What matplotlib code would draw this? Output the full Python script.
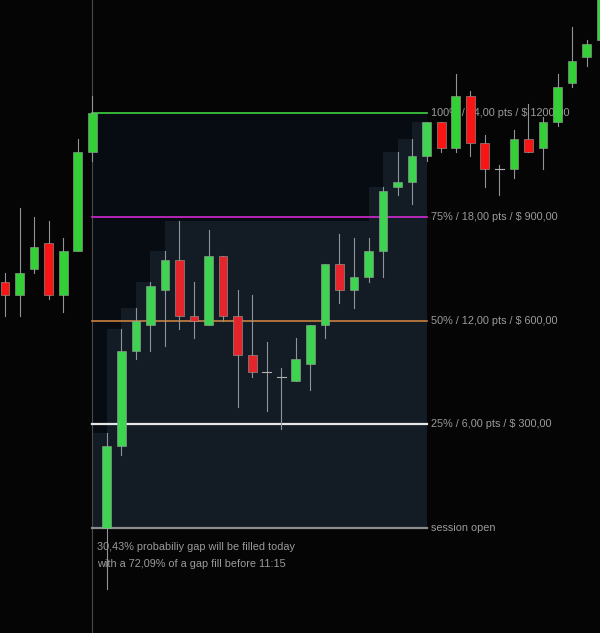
import matplotlib
matplotlib.use("Agg")
import matplotlib.pyplot as plt
from matplotlib.patches import Rectangle
import numpy as np

plt.rcParams['font.family'] = ['Liberation Sans', 'DejaVu Sans']

# ES session, points relative to session open (4512.00)
session_open = 4512.00
gap_pts = 24.0
point_value = 50.0

# OHLC offsets from session open, one bar per 15 min
opens = [14.25, 13.5, 15.0, 16.5, 13.5, 16.0, 21.75,
         0.0, 4.75, 10.25, 11.75, 13.75, 15.5, 12.25, 11.75, 15.75, 12.25,
         10.0, 9.0, 8.75, 8.5, 9.5, 11.75, 15.25, 13.75, 14.5, 16.0, 19.75,
         20.0, 21.5, 23.5, 22.0, 25.0, 22.25, 20.75, 20.75, 22.5, 22.0,
         23.5, 25.75, 27.25, 28.25]
highs = [14.75, 18.5, 18.0, 17.75, 16.75, 22.5, 25.0,
         5.5, 11.5, 12.75, 14.25, 16.0, 17.75, 14.25, 17.25, 15.75, 13.75,
         13.5, 10.75, 9.25, 11.0, 11.75, 15.25, 17.0, 16.75, 16.75, 19.75, 21.75,
         22.5, 23.5, 23.5, 26.25, 25.25, 22.75, 21.0, 23.0, 24.5, 23.75,
         26.25, 29.0, 28.25, 31.5]
lows = [12.25, 12.25, 14.75, 13.25, 12.5, 16.0, 21.25,
        -3.5, 4.25, 9.75, 10.25, 10.5, 11.5, 11.0, 11.75, 12.0, 7.0,
        8.75, 6.75, 5.75, 8.5, 8.0, 11.0, 13.0, 12.75, 14.25, 14.5, 19.25,
        18.75, 21.25, 21.75, 21.75, 21.5, 19.75, 19.25, 20.25, 21.75, 20.75,
        23.25, 25.5, 26.75, 28.0]
closes = [13.5, 14.75, 16.25, 13.5, 16.0, 21.75, 24.0,
          4.75, 10.25, 12.0, 14.0, 15.5, 12.25, 12.0, 15.75, 12.25, 10.0,
          9.0, 9.0, 8.75, 9.75, 11.75, 15.25, 13.75, 14.5, 16.0, 19.5, 20.0,
          21.5, 23.5, 22.0, 25.0, 22.25, 20.75, 20.75, 22.5, 21.75, 23.5,
          25.5, 27.0, 28.0, 31.0]

open_bar = 6       # last bar of prior session (gap bar)
end_bar = 29       # box ends here
level_pcts = [1.00, 0.75, 0.50, 0.25]
level_colors = ['#3fd23f', '#d22ad2', '#c9803f', '#e6e6e6']
level_widths = [1.2, 1.2, 1.2, 1.6]
fill_prob = 30.43
early_prob = 72.09
early_time = '11:15'

bg = '#050505'
text_col = '#9b9b9b'
fs = 7.8

fig = plt.figure(figsize=(6.0, 6.33), dpi=100, facecolor=bg)
ax = fig.add_axes([0, 0, 1, 1])
ax.set_facecolor(bg)
ax.set_axis_off()

o = session_open + np.array(opens)
h = session_open + np.array(highs)
l = session_open + np.array(lows)
c = session_open + np.array(closes)
n = len(o)
x = np.arange(n)

ax.set_xlim(-0.344, 40.92)
ax.set_ylim(session_open - 6.07, session_open + 30.54)

top = session_open + gap_pts

# dark box for the gap zone
ax.add_patch(Rectangle((open_bar, session_open), end_bar - open_bar, gap_pts,
                       facecolor='#070b12', edgecolor='none', zorder=1))
# running-high staircase
run_high = -np.inf
for i in range(open_bar + 1, end_bar + 1):
    run_high = max(run_high, h[i])
    hh = min(run_high, top) - session_open
    ax.add_patch(Rectangle((i - 1, session_open), 1, hh,
                           facecolor='#131c24', edgecolor='none', zorder=1.5))

# session divider
ax.axvline(open_bar, color='#4a4a4a', lw=0.8, zorder=2)

# levels
for pct, col, lw in zip(level_pcts, level_colors, level_widths):
    y = session_open + pct * gap_pts
    ax.plot([open_bar, end_bar], [y, y], color=col, lw=lw, zorder=3)
    pts = pct * gap_pts
    usd = pts * point_value
    lab = f"{pct * 100:.0f}% / {pts:.2f} pts / $ {usd:.2f}".replace('.', ',')
    ax.text(end_bar + 0.28, y, lab, color=text_col, fontsize=fs,
            va='center', ha='left', zorder=3)
ax.plot([open_bar, end_bar], [session_open, session_open], color='#8c8c8c', lw=1.6, zorder=3)
ax.text(end_bar + 0.28, session_open, 'session open', color=text_col, fontsize=fs,
        va='center', ha='left', zorder=3)

# candles
w = 0.6
for i in range(n):
    inside = open_bar < i <= end_bar
    up = c[i] >= o[i]
    if up:
        col = '#3ed451' if inside else '#35cf38'
    else:
        col = '#e5252c' if inside else '#fa1414'
    ax.plot([x[i], x[i]], [l[i], h[i]], color='#8e949a', lw=0.8, zorder=4)
    body = abs(c[i] - o[i])
    if body < 0.05:
        ax.plot([x[i] - w / 2, x[i] + w / 2], [o[i], o[i]], color='#b0b0b0', lw=0.8, zorder=5)
    else:
        ax.add_patch(Rectangle((x[i] - w / 2, min(o[i], c[i])), w, body,
                               facecolor=col, edgecolor='#9aa39c', lw=0.4, zorder=5))

ax.annotate(f"{fill_prob:.2f}% probabiliy gap will be filled today".replace('.', ','),
            xy=(open_bar, session_open), xytext=(5, -19), textcoords='offset pixels',
            color=text_col, fontsize=fs, va='center', ha='left')
ax.annotate(f"with a {early_prob:.2f}% of a gap fill before {early_time}".replace('.', ',', 1),
            xy=(open_bar, session_open), xytext=(5, -36), textcoords='offset pixels',
            color=text_col, fontsize=fs, va='center', ha='left')

fig.savefig('out.png', dpi=100, facecolor=bg)
